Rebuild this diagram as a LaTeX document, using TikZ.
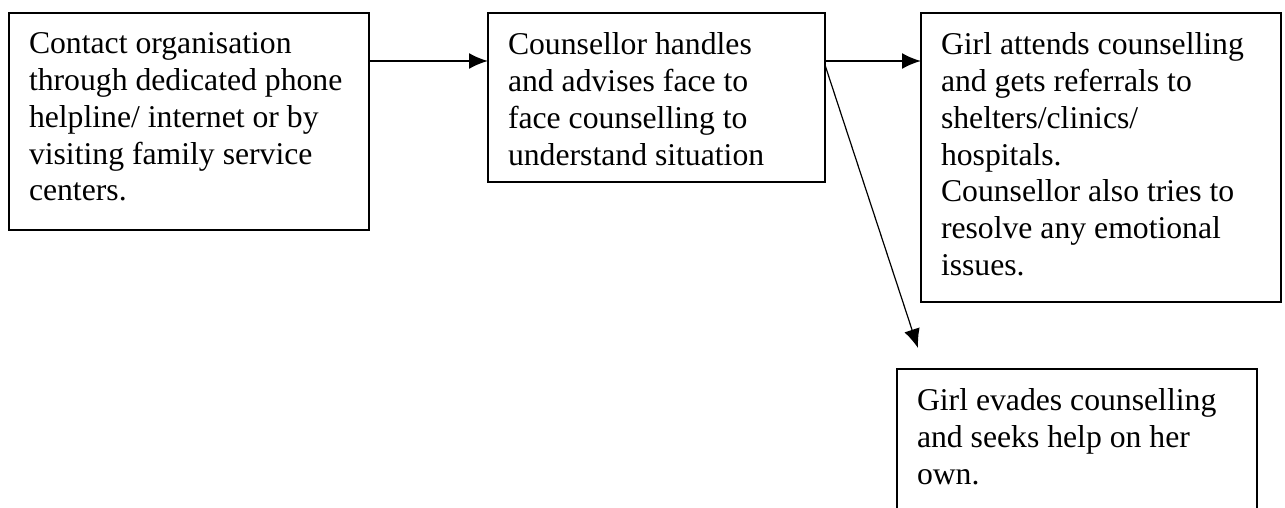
\documentclass[tikz,border=0pt]{standalone}
\usepackage{fontspec}
\setmainfont{Liberation Serif}
\usepackage{tikz}
\usetikzlibrary{arrows.meta}

\newcommand{\boxtext}[3]{\parbox[t][#2][t]{#1}{\raggedright\fontsize{15.85pt}{18.35pt}\selectfont #3}}

\begin{document}
\begin{tikzpicture}[x=0.5pt, y=-0.5pt, line width=1pt,
		stagebox/.style={
			rectangle, draw=black, anchor=north west,
			inner sep=10pt, outer sep=0pt
		},
		flow/.style={-{Latex[length=9.5pt, width=8pt]}}
	]
		\useasboundingbox (0,0) rectangle (1285,508);

		\node[stagebox] (contact) at (9,13) {\boxtext{160pt}{88.5pt}{%
			Contact organisation\\ through dedicated phone\\ helpline/ internet or by\\
			visiting family service\\ centers.}};
		\node[stagebox] (handle) at (488,13) {\boxtext{148.5pt}{64.5pt}{%
			Counsellor handles\\ and advises face to\\ face counselling to\\
			understand situation}};
		\node[stagebox] (attend) at (921,13) {\boxtext{160pt}{124.5pt}{%
			Girl attends counselling\\ and gets referrals to\\ shelters/clinics/\\
			hospitals.\\ Counsellor also tries to\\ resolve any emotional\\ issues.}};
		\node[stagebox] (evade) at (897,369) {\boxtext{160pt}{60pt}{%
			Girl evades counselling\\ and seeks help on her\\ own.}};

		\coordinate (evadetip) at (918,348);

		\draw[flow] ([yshift=-24pt]contact.north east) -- ([yshift=-24pt]handle.north west);
		\draw[flow] ([yshift=-24pt]handle.north east) -- ([yshift=-24pt]attend.north west);
		\draw[flow, line width=0.6pt] ([yshift=-26pt]handle.north east) -- (evadetip);
	\end{tikzpicture}
\end{document}
